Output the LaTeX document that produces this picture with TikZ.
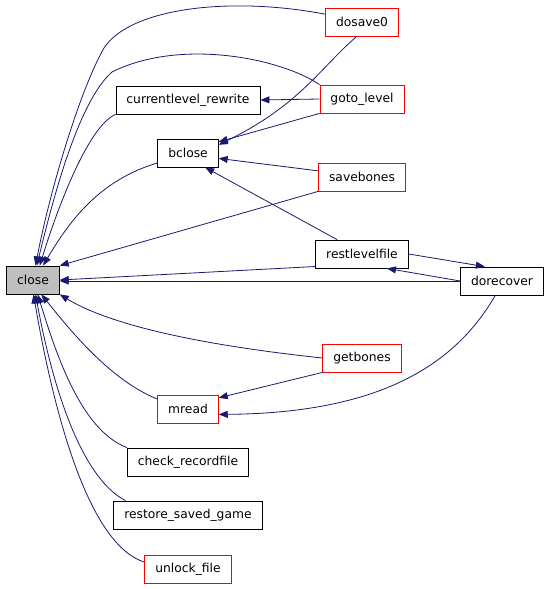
\documentclass[tikz,border=0pt]{standalone}
\usepackage{fontspec}
\setmainfont{DejaVu Sans}
\usepackage{xcolor}
\usetikzlibrary{arrows.meta}
\definecolor{edgeblue}{HTML}{191970}

\begin{document}
\begin{tikzpicture}[
  x=1pt, y=-1pt,
  fn/.style={draw, rectangle, minimum height=28pt, inner xsep=10.5pt, inner ysep=0pt,
             font=\fontsize{12.3}{14}\selectfont, fill=white, line width=0.8pt},
  redfn/.style={fn, draw=red},
  focus/.style={fn, fill=black!25},
  call/.style={-{Triangle[length=9pt,width=7pt]}, draw=edgeblue, line width=0.8pt}
]
\useasboundingbox (0,0) rectangle (552,589);
\node[focus] (close) at (33,280) {close};
\node[redfn] (dosave) at (362,22) {dosave0};
\node[fn] (curlev) at (188,100) {currentlevel\_rewrite};
\node[redfn] (gotolev) at (362,99) {goto\_level};
\node[fn] (bclose) at (188,153) {bclose};
\node[redfn] (savebones) at (362,177) {savebones};
\node[fn] (restlev) at (362,254) {restlevelfile};
\node[fn] (dorecover) at (502,281) {dorecover};
\node[redfn] (getbones) at (362,358) {getbones};
\node[redfn] (mread) at (188,409) {mread};
\node[fn] (checkrec) at (188,462) {check\_recordfile};
\node[fn] (restsaved) at (188,515) {restore\_saved\_game};
\node[redfn] (unlock) at (188,569) {unlock\_file};
% callers of close, upper side
\draw[call] (dosave.168) .. controls (230,-4) and (130,8) .. (104,48)
  .. controls (80,90) and (50,190) .. (close.80);
\draw[call] (gotolev.north west) .. controls (280,58) and (180,38) .. (112,72)
  .. controls (80,100) and (55,190) .. (close.75);
\draw[call] (curlev.south west) .. controls (90,125) and (60,200) .. (close.65);
\draw[call] (bclose.west |- 0,163) .. controls (100,180) and (70,220) .. (close.55);
\draw[call] (savebones.south west) -- (close.north east);
\draw[call] (restlev.195) -- (close.east);
\draw[call] (dorecover.west) -- (close.east |- dorecover.west);
% callers of close, lower side
\draw[call] (getbones.west) .. controls (200,345) and (110,325) .. (close.south east);
\draw[call] (mread.162) .. controls (110,380) and (70,330) .. (close.-60);
\draw[call] (checkrec.north west) .. controls (80,430) and (55,350) .. (close.-72);
\draw[call] (restsaved.167) .. controls (85,480) and (55,400) .. (close.-80);
\draw[call] (unlock.171) .. controls (90,545) and (55,420) .. (close.-88);
% other calls
\draw[call] (gotolev.west) -- (curlev.east);
\draw[call] (gotolev.south west) -- (bclose.20);
\draw[call] (dosave.-110) .. controls (320,68) and (300,105) .. (bclose.15);
\draw[call] (savebones.172) -- (bclose.-10);
\draw[call] (restlev.150) -- (bclose.-40);
\draw[call] (restlev.east) -- (dorecover.140);
\draw[call] (dorecover.west) -- (restlev.-30);
\draw[call] (dorecover.-115) .. controls (455,365) and (380,413) .. (mread.-10);
\draw[call] (getbones.south west) -- (mread.20);
\end{tikzpicture}
\end{document}
